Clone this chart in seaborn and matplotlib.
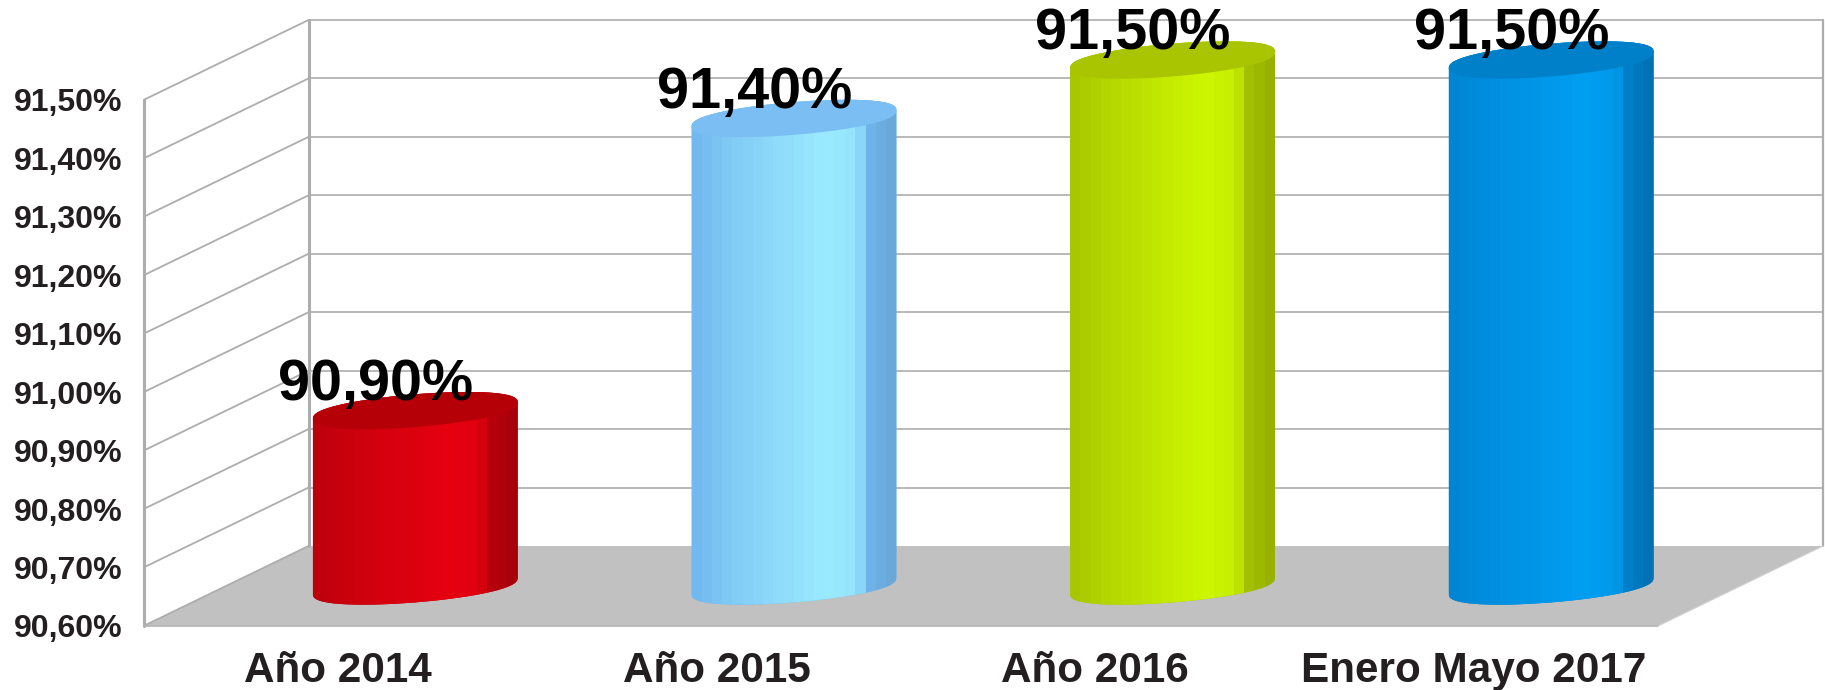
import numpy as np
import pandas as pd
import matplotlib
matplotlib.use("Agg")
import matplotlib.pyplot as plt
from matplotlib.path import Path
from matplotlib.patches import PathPatch, Polygon
from matplotlib.transforms import ScaledTranslation
import seaborn as sns

# --- data
categories = ["Año 2014", "Año 2015", "Año 2016", "Enero Mayo 2017"]
values = [90.9, 91.4, 91.5, 91.5]
value_labels = ["90,90%", "91,40%", "91,50%", "91,50%"]
y_ticks = [90.6, 90.7, 90.8, 90.9, 91.0, 91.1, 91.2, 91.3, 91.4, 91.5]
y_tick_labels = ["90,60%", "90,70%", "90,80%", "90,90%", "91,00%",
                 "91,10%", "91,20%", "91,30%", "91,40%", "91,50%"]

# --- colours per cylinder: edge, bright, right shadow, top cap
edge_colors = ["#BC000C", "#6FB6EE", "#A6C400", "#0084D2"]
bright_colors = ["#E60010", "#9BEBFF", "#CCF600", "#009EF2"]
shadow_colors = ["#A4000A", "#69A6D6", "#96AE00", "#006EAC"]
top_colors = ["#B60008", "#7BBEF3", "#A9C400", "#0080C8"]

W, H, DPI = 1825, 690, 100
sns.set_theme(style="white")
plt.rcParams["font.family"] = ["Liberation Sans", "DejaVu Sans"]

fig = plt.figure(figsize=(W / DPI, H / DPI), dpi=DPI, facecolor="white")
left_px, right_px, bottom_px, top_px = 143.5, 1658.0, 626.0, 100.0
ax = fig.add_axes([left_px / W, 1 - bottom_px / H,
                   (right_px - left_px) / W, (bottom_px - top_px) / H])

df = pd.DataFrame({"category": categories, "value": values})
sns.barplot(data=df, x="category", y="value", hue="category",
            palette=edge_colors, width=0.541, legend=False, ax=ax,
            order=categories, hue_order=categories, saturation=1)
ax.set_xlim(-0.5, 3.5)
ax.set_ylim(y_ticks[0], y_ticks[-1])
ax.set_xlabel("")
ax.set_ylabel("")
ax.patch.set_alpha(0)
for s in ax.spines.values():
    s.set_visible(False)

xs = (right_px - left_px) / 4            # pixels per category
ys = (bottom_px - top_px) / (y_ticks[-1] - y_ticks[0])  # pixels per unit
depth_x = 165 / xs
depth_y = 80 / ys
x0, x1 = ax.get_xlim()
y0, y1 = ax.get_ylim()

# --- floor and walls
GRID = "#ADADAD"
ax.add_patch(Polygon([(x0, y0), (x1, y0), (x1 + depth_x, y0 + depth_y),
                      (x0 + depth_x, y0 + depth_y)],
                     closed=True, fc="#C1C1C1", ec="none", clip_on=False, zorder=0.5))
for v in y_ticks:
    ax.plot([x0, x0 + depth_x], [v, v + depth_y], color=GRID, lw=1.3,
            clip_on=False, zorder=0.6, solid_capstyle="butt")
    if v > y0:
        ax.plot([x0 + depth_x, x1 + depth_x], [v + depth_y] * 2, color=GRID, lw=1.2,
                clip_on=False, zorder=0.6)
ax.plot([x0, x0], [y0, y1], color=GRID, lw=2.2, clip_on=False, zorder=0.7)
ax.plot([x0 + depth_x] * 2, [y0 + depth_y, y1 + depth_y], color=GRID, lw=2.2,
        clip_on=False, zorder=0.7)
ax.plot([x1 + depth_x] * 2, [y0 + depth_y, y1 + depth_y], color=GRID, lw=1.6,
        clip_on=False, zorder=0.7)
ax.plot([x0, x1], [y0, y0], color="#B4B4B4", lw=1.2, clip_on=False, zorder=0.7)
ax.plot([x1, x1 + depth_x], [y0, y0 + depth_y], color="#D0D0D0", lw=0.8,
        clip_on=False, zorder=0.7)


def mix(c1, c2, f):
    a, b = np.array(matplotlib.colors.to_rgb(c1)), np.array(matplotlib.colors.to_rgb(c2))
    return tuple(a + (b - a) * f)


def fat(u):
    return np.sign(u) * np.abs(u) ** 0.82


# --- cylinders, built from the bars that seaborn drew
cap_b = 16.4 / ys      # vertical half-axis of the cap
cap_k = 8.2 / ys       # tilt of the cap (right side higher)
t = np.linspace(0, 2 * np.pi, 241)
N_STRIPS = 20
for i, bar in enumerate(ax.patches[:len(values)]):
    cx = bar.get_x() + bar.get_width() / 2 + depth_x / 2
    hw = bar.get_width() / 2
    base = y0 + depth_y / 2
    top = values[i] + depth_y / 2

    # body outline: lower half of base cap, upper half of top cap
    tb = np.linspace(np.pi, 2 * np.pi, 121)
    xb = cx + hw * np.cos(tb)
    yb = base + cap_b * fat(np.sin(tb)) + cap_k * np.cos(tb)
    tt = np.linspace(0, np.pi, 121)
    xt = cx + hw * np.cos(tt)
    yt = top + cap_b * fat(np.sin(tt)) + cap_k * np.cos(tt)
    verts = np.vstack([np.column_stack([xb, yb]), np.column_stack([xt, yt]),
                       [[xb[0], yb[0]]]])
    body = PathPatch(Path(verts, closed=True), fc=edge_colors[i], ec="none",
                     clip_on=False, zorder=2)
    ax.add_patch(body)
    bar.set_visible(False)

    # vertical shading bands
    edges = np.linspace(cx - hw, cx + hw, N_STRIPS + 1)
    for j in range(N_STRIPS):
        p = (j + 0.5) / N_STRIPS
        if p < 0.87:
            col = mix(edge_colors[i], bright_colors[i],
                      float(np.interp(p, [0, 0.2, 0.66, 0.78, 0.87], [0, 0.4, 1, 0.85, 0.35])))
        else:
            col = mix(shadow_colors[i], edge_colors[i], float(np.interp(p, [0.87, 1.0], [0.8, 0])))
        strip = ax.fill_between([edges[j], edges[j + 1] + 0.001],
                                base - 2 * cap_b, top + 2 * cap_b,
                                color=col, lw=0, zorder=2.1, clip_on=True)
        strip.set_clip_path(body)

    # top cap
    xc = cx + hw * np.cos(t)
    yc = top + cap_b * fat(np.sin(t)) + cap_k * np.cos(t)
    ax.add_patch(Polygon(np.column_stack([xc, yc]), closed=True, fc=top_colors[i],
                         ec="none", clip_on=False, zorder=2.2))

    # value label
    ax.annotate(value_labels[i], xy=(i, values[i]), xytext=(43 * 0.72, 65.5 * 0.72),
                textcoords="offset points", ha="center", va="center",
                fontsize=41.5, fontweight="bold", color="black",
                annotation_clip=False, zorder=5)

# --- ticks
TXT = "#231F20"
ax.set_yticks(y_ticks)
ax.set_yticklabels(y_tick_labels, fontsize=23, fontweight="bold", color=TXT)
ax.set_xticks(range(len(categories)))
ax.set_xticklabels(categories, fontsize=30.4, fontweight="bold", color=TXT)
ax.tick_params(axis="y", length=0, pad=15)
ax.tick_params(axis="x", length=0, pad=18)
ax.grid(False)
shift = ScaledTranslation(5 / DPI, 0, fig.dpi_scale_trans)
for lab in ax.get_xticklabels():
    lab.set_transform(lab.get_transform() + shift)

fig.savefig("out.png", dpi=DPI, facecolor="white")
